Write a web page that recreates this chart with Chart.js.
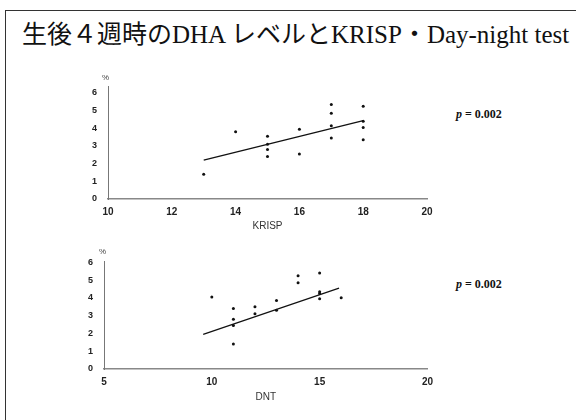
<!DOCTYPE html>
<html lang="ja">
<head>
<meta charset="UTF-8">
<title>生後４週時のDHA レベルとKRISP・Day-night test</title>
<script src="https://cdn.jsdelivr.net/npm/chart.js"></script>
<style>
    body { margin: 0; width: 576px; height: 420px; background: #fff; position: relative; overflow: hidden; }
    .frame { position: absolute; left: 5px; top: 10px; width: 600px; height: 450px; border-left: 1.5px solid #333; border-top: 1.5px solid #333; }
    h1 { position: absolute; left: 22px; top: 20px; margin: 0; font: 25px "Liberation Serif", "Noto Sans CJK JP"; line-height: 30px; font-weight: normal; white-space: nowrap; color: #111; }
    .p { position: absolute; left: 456px; font: bold 12px "Liberation Serif"; color: #111; line-height: 14px; }
    .pct { position: absolute; font: 8px "Liberation Sans"; color: #444; line-height: 8px; }
    canvas { position: absolute; left: 0; }
</style>
</head>
<body>
<div class="frame"></div>
<h1>生後４週時のDHA レベルとKRISP・Day-night test</h1>

<canvas id="krisp" width="440" height="162" style="top:70px"></canvas>
<canvas id="dnt" width="440" height="158" style="top:245px"></canvas>

<div class="pct" style="left:102px; top:74px">%</div>
<div class="pct" style="left:99px; top:248px">%</div>
<div class="p" style="top:107px"><i>p</i> = 0.002</div>
<div class="p" style="top:277px"><i>p</i> = 0.002</div>

<script>
    // KRISP と DHA
    const krispX = [13, 14, 15, 15, 15, 15, 16, 16, 17, 17, 17, 17, 18, 18, 18, 18];
    const krispY = [1.4, 3.8, 3.55, 3.1, 2.8, 2.4, 3.95, 2.55, 5.35, 4.85, 4.15, 3.45, 5.25, 4.4, 4.05, 3.35];
    const krispFitX = [13, 18];
    const krispFitY = [2.2, 4.43];
    const krispTicks = [10, 12, 14, 16, 18, 20];

    // Day-night test と DHA
    const dntX = [10, 11, 11, 11, 11, 12, 12, 13, 13, 14, 14, 15, 15, 15, 15, 16];
    const dntY = [4.05, 3.4, 2.8, 2.45, 1.4, 3.5, 3.1, 3.85, 3.3, 5.25, 4.85, 5.4, 4.35, 4.25, 3.95, 4.0];
    const dntFitX = [9.6, 15.9];
    const dntFitY = [1.95, 4.55];
    const dntTicks = [5, 10, 15, 20];

    const yTicks = [0, 1, 2, 3, 4, 5, 6];

    function puntos(xs, ys) {
        return xs.map((x, i) => ({ x: x, y: ys[i] }));
    }

    function crearGrafico(id, xs, ys, fx, fy, xTicks, titulo, yMax, yAncho, xAlto, pad) {
        const ctx = document.getElementById(id).getContext('2d');
        return new Chart(ctx, {
            type: 'scatter',
            data: {
                datasets: [{
                    data: puntos(xs, ys),
                    pointRadius: 1.5,
                    pointBackgroundColor: '#111',
                    pointBorderWidth: 0
                }, {
                    data: puntos(fx, fy),
                    showLine: true,
                    borderColor: '#111',
                    borderWidth: 1.3,
                    pointRadius: 0
                }]
            },
            options: {
                responsive: false,
                animation: false,
                layout: { padding: pad },
                plugins: { legend: { display: false }, tooltip: { enabled: false } },
                scales: {
                    x: {
                        type: 'linear',
                        min: xTicks[0],
                        max: xTicks[xTicks.length - 1],
                        afterBuildTicks: s => { s.ticks = xTicks.map(v => ({ value: v })); },
                        afterFit: s => { s.height = xAlto; },
                        grid: { display: true, drawOnChartArea: false, drawTicks: false },
                        border: { color: '#888', width: 1.5, dash: [1, 1] },
                        ticks: { padding: 7, color: '#222', font: { family: 'Liberation Sans', size: 10, weight: 'bold' } },
                        title: { display: true, text: titulo, color: '#333', padding: 0, font: { family: 'Liberation Sans', size: 10 } }
                    },
                    y: {
                        min: 0,
                        max: yMax,
                        afterBuildTicks: s => { s.ticks = yTicks.map(v => ({ value: v })); },
                        afterFit: s => { s.width = yAncho; },
                        grid: { display: true, drawOnChartArea: false, drawTicks: false },
                        border: { color: '#777', width: 1 },
                        ticks: { padding: 11, color: '#222', font: { family: 'Liberation Sans', size: 9, weight: 'bold' } }
                    }
                }
            }
        });
    }

    crearGrafico('krisp', krispX, krispY, krispFitX, krispFitY, krispTicks, 'KRISP', 6.37, 108, 33,
        { top: 9, right: 13, bottom: 0, left: 0 });
    crearGrafico('dnt', dntX, dntY, dntFitX, dntFitY, dntTicks, 'DNT', 6.05, 104, 34,
        { top: 13, right: 10, bottom: 0, left: 0 });
</script>
</body>
</html>
